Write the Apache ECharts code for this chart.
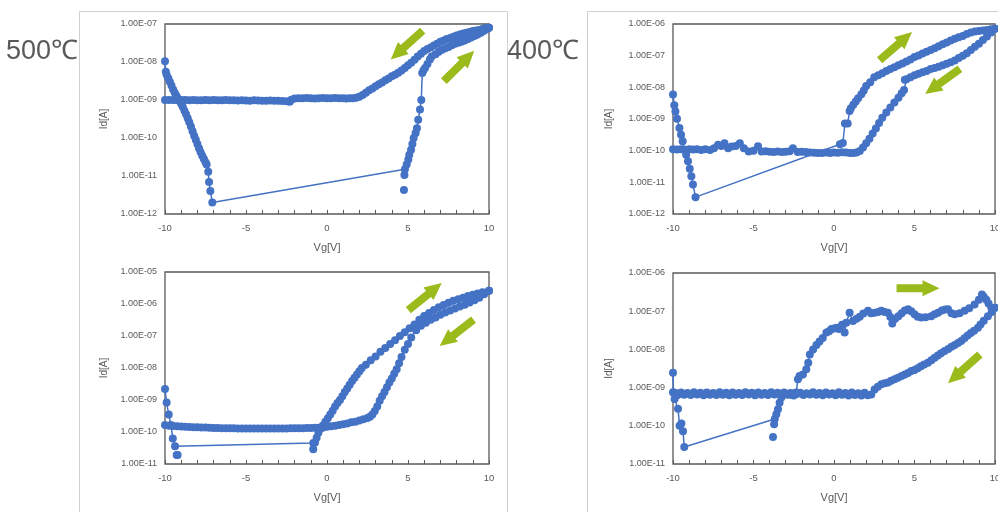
<!DOCTYPE html>
<html>
<head>
<meta charset="utf-8">
<script src="https://cdn.jsdelivr.net/npm/echarts@6/dist/echarts.min.js"></script>
<style>
  html, body { margin: 0; padding: 0; background: #fff; }
  #chart { width: 998px; height: 512px; }
</style>
</head>
<body>
<div id="chart"></div>
<script>
// ---- data: [Vg (V), Id (A)] ----
const xLabelValues = [-10, -5, 0, 5, 10];
const tempLabels = ['500℃', '400℃'];

// 500℃, upper chart
const a500Fwd = [
  [-10, 1.05e-8], [-9.95, 5.5e-9], [-9.9, 4.6e-9], [-9.8, 3.8e-9], [-9.7, 3.0e-9], [-9.6, 2.4e-9],
  [-9.5, 1.9e-9], [-9.4, 1.55e-9], [-9.3, 1.3e-9], [-9.2, 1.1e-9], [-9.1, 9.5e-10], [-9.0, 8.0e-10],
  [-8.9, 6.5e-10], [-8.8, 5.2e-10], [-8.7, 4.2e-10], [-8.6, 3.3e-10], [-8.5, 2.6e-10], [-8.4, 2.0e-10],
  [-8.3, 1.5e-10], [-8.2, 1.15e-10], [-8.1, 9.0e-11], [-8.0, 7.0e-11], [-7.9, 5.4e-11], [-7.8, 4.2e-11],
  [-7.7, 3.4e-11], [-7.6, 2.8e-11], [-7.5, 2.3e-11], [-7.43, 2.0e-11], [-7.33, 1.3e-11], [-7.28, 7.0e-12],
  [-7.2, 4.0e-12], [-7.08, 2.0e-12],
  [4.81, 1.5e-11], [4.92, 2.0e-11], [5.02, 2.7e-11], [5.08, 3.6e-11], [5.19, 4.9e-11], [5.27, 6.9e-11],
  [5.35, 1.0e-10], [5.47, 1.35e-10], [5.55, 1.8e-10], [5.63, 3.0e-10], [5.74, 5.6e-10], [5.82, 1.0e-9],
  [5.88, 5.1e-9], [5.95, 6.0e-9], [6.05, 6.9e-9], [6.2, 8.9e-9], [6.35, 1.17e-8], [6.46, 1.4e-8],
  [6.7, 1.6e-8], [6.9, 1.85e-8], [7.1, 2.1e-8], [7.3, 2.3e-8], [7.5, 2.5e-8], [7.7, 2.75e-8],
  [7.9, 3.0e-8], [8.1, 3.2e-8], [8.3, 3.4e-8], [8.5, 3.7e-8], [8.7, 4.0e-8], [8.9, 4.4e-8],
  [9.1, 4.8e-8], [9.3, 5.3e-8], [9.5, 5.9e-8], [9.7, 6.6e-8], [9.9, 7.5e-8], [10, 8.0e-8]
];
const a500Rev = [
  [10, 8.0e-8], [9.8, 7.9e-8], [9.6, 7.4e-8], [9.4, 7.0e-8], [9.2, 6.7e-8], [9.0, 6.5e-8],
  [8.8, 6.2e-8], [8.6, 5.9e-8], [8.4, 5.6e-8], [8.2, 5.3e-8], [8.0, 5.0e-8], [7.8, 4.6e-8],
  [7.6, 4.3e-8], [7.4, 4.0e-8], [7.2, 3.7e-8], [7.0, 3.4e-8], [6.8, 3.0e-8], [6.6, 2.7e-8],
  [6.4, 2.4e-8], [6.2, 2.2e-8], [6.0, 1.95e-8], [5.8, 1.65e-8], [5.6, 1.4e-8], [5.4, 1.15e-8],
  [5.2, 9.6e-9], [5.0, 8.2e-9], [4.8, 7.0e-9], [4.6, 6.0e-9], [4.4, 5.2e-9], [4.2, 4.6e-9],
  [4.0, 4.2e-9], [3.8, 3.7e-9], [3.6, 3.3e-9], [3.4, 2.9e-9], [3.2, 2.6e-9], [3.0, 2.3e-9],
  [2.8, 2.0e-9], [2.6, 1.8e-9], [2.4, 1.55e-9], [2.2, 1.35e-9], [2.0, 1.22e-9], [1.8, 1.15e-9],
  [1.6, 1.12e-9], [1.4, 1.11e-9], [1.2, 1.1e-9], [1.0, 1.12e-9], [0.75, 1.11e-9], [0.5, 1.13e-9],
  [0.25, 1.11e-9], [0, 1.12e-9], [-0.25, 1.13e-9], [-0.5, 1.11e-9], [-0.75, 1.1e-9], [-1.0, 1.12e-9],
  [-1.25, 1.13e-9], [-1.5, 1.11e-9], [-1.75, 1.12e-9], [-2.0, 1.1e-9], [-2.2, 1.02e-9], [-2.3, 9.0e-10],
  [-2.5, 9.3e-10], [-2.75, 9.4e-10], [-3.0, 9.6e-10], [-3.25, 9.5e-10], [-3.5, 9.7e-10], [-3.75, 9.6e-10],
  [-4.0, 9.5e-10], [-4.25, 9.7e-10], [-4.5, 9.8e-10], [-4.75, 9.6e-10], [-5.0, 9.7e-10], [-5.25, 9.8e-10],
  [-5.5, 9.7e-10], [-5.75, 9.9e-10], [-6.0, 9.8e-10], [-6.25, 1.0e-9], [-6.5, 9.9e-10], [-6.75, 9.8e-10],
  [-7.0, 1.0e-9], [-7.25, 9.9e-10], [-7.5, 1.0e-9], [-7.75, 9.8e-10], [-8.0, 9.9e-10], [-8.25, 1.0e-9],
  [-8.5, 9.9e-10], [-8.75, 1.0e-9], [-9.0, 1.0e-9], [-9.25, 9.9e-10], [-9.5, 1.0e-9], [-9.75, 1.0e-9],
  [-10, 1.0e-9]
];
const a500Stray = [[4.75, 4.3e-12], [4.78, 1.07e-11]];
const a500Arrows = [[4.92, 2.8e-8], [8.15, 7.85e-9]];

// 400℃, upper chart
const b400Fwd = [
  [-10, 5.9e-9], [-9.92, 2.7e-9], [-9.85, 1.74e-9], [-9.75, 1.02e-9], [-9.6, 5.2e-10], [-9.5, 3.2e-10],
  [-9.4, 2.0e-10], [-9.3, 1.07e-10], [-9.18, 7.4e-11], [-9.07, 4.6e-11], [-8.96, 2.7e-11], [-8.86, 1.55e-11],
  [-8.76, 8.5e-12], [-8.6, 3.4e-12],
  [0.37, 1.6e-10], [0.55, 1.75e-10], [0.68, 7.2e-10], [0.85, 7.2e-10], [0.97, 1.8e-9], [1.05, 2.2e-9],
  [1.2, 2.8e-9], [1.35, 3.6e-9], [1.5, 4.5e-9], [1.7, 6.0e-9], [1.85, 8.0e-9], [2.0, 1.1e-8],
  [2.25, 1.45e-8], [2.5, 2.1e-8], [2.75, 2.4e-8], [3.0, 2.8e-8], [3.25, 3.3e-8], [3.5, 3.8e-8],
  [3.75, 4.3e-8], [4.0, 5.0e-8], [4.25, 5.7e-8], [4.5, 6.6e-8], [4.75, 7.6e-8], [5.0, 9.0e-8],
  [5.25, 1.02e-7], [5.5, 1.17e-7], [5.75, 1.32e-7], [6.0, 1.5e-7], [6.25, 1.72e-7], [6.5, 2.0e-7],
  [6.75, 2.3e-7], [7.0, 2.6e-7], [7.25, 3.0e-7], [7.5, 3.4e-7], [7.75, 3.8e-7], [8.0, 4.2e-7],
  [8.25, 4.8e-7], [8.5, 5.4e-7], [8.75, 5.8e-7], [9.0, 6.0e-7], [9.25, 6.2e-7], [9.5, 6.5e-7],
  [9.75, 6.8e-7], [10, 7.1e-7]
];
const b400Rev = [
  [10, 7.1e-7], [9.75, 5.4e-7], [9.5, 4.0e-7], [9.25, 3.1e-7], [9.0, 2.4e-7], [8.75, 1.9e-7],
  [8.5, 1.5e-7], [8.25, 1.2e-7], [8.0, 1.0e-7], [7.75, 8.5e-8], [7.5, 7.1e-8], [7.25, 6.2e-8],
  [7.0, 5.6e-8], [6.75, 5.0e-8], [6.5, 4.5e-8], [6.25, 4.1e-8], [6.0, 3.8e-8], [5.75, 3.3e-8],
  [5.5, 3.0e-8], [5.25, 2.7e-8], [5.0, 2.4e-8], [4.75, 2.1e-8], [4.5, 1.8e-8], [4.4, 1.75e-8],
  [4.35, 8.3e-9], [4.2, 6.5e-9], [4.0, 4.7e-9], [3.75, 3.3e-9], [3.5, 2.3e-9], [3.25, 1.6e-9],
  [3.0, 1.1e-9], [2.8, 7.5e-10], [2.6, 5.0e-10], [2.4, 3.5e-10], [2.2, 2.4e-10], [2.0, 1.7e-10],
  [1.8, 1.25e-10], [1.6, 9.8e-11], [1.4, 8.8e-11], [1.2, 8.5e-11], [1.0, 8.5e-11], [0.75, 8.7e-11],
  [0.5, 8.9e-11], [0.25, 8.6e-11], [0, 8.8e-11], [-0.25, 8.5e-11], [-0.5, 8.7e-11], [-0.75, 8.5e-11],
  [-1.0, 8.4e-11], [-1.25, 8.6e-11], [-1.5, 8.8e-11], [-1.75, 9.0e-11], [-2.0, 9.3e-11], [-2.25, 9.0e-11],
  [-2.55, 1.2e-10], [-2.75, 9.5e-11], [-3.0, 9.2e-11], [-3.25, 9.0e-11], [-3.5, 9.4e-11], [-3.75, 9.1e-11],
  [-4.0, 9.3e-11], [-4.25, 9.6e-11], [-4.5, 9.4e-11], [-4.72, 1.38e-10], [-5.0, 1.0e-10], [-5.3, 9.4e-11],
  [-5.6, 1.2e-10], [-5.85, 1.7e-10], [-6.1, 1.4e-10], [-6.35, 1.35e-10], [-6.58, 1.2e-10], [-6.8, 1.7e-10],
  [-7.0, 1.4e-10], [-7.2, 1.55e-10], [-7.45, 1.2e-10], [-7.7, 1.05e-10], [-8.0, 1.1e-10], [-8.25, 1.05e-10],
  [-8.5, 1.1e-10], [-8.75, 1.08e-10], [-9.0, 1.1e-10], [-9.25, 1.07e-10], [-9.5, 1.1e-10], [-9.75, 1.08e-10],
  [-10, 1.1e-10]
];
const b400Stray = [];
const b400Arrows = [[3.84, 2.0e-7], [6.74, 1.55e-8]];

// 500℃, lower chart
const c500Fwd = [
  [-10, 2.2e-9], [-9.9, 8.3e-10], [-9.77, 3.5e-10], [-9.63, 1.66e-10], [-9.52, 6.3e-11], [-9.38, 3.6e-11],
  [-0.85, 4.5e-11], [-0.74, 4.7e-11], [-0.64, 6.6e-11], [-0.53, 9.5e-11], [-0.4, 1.26e-10], [-0.25, 1.6e-10],
  [-0.1, 2.1e-10], [0.05, 2.7e-10], [0.2, 3.5e-10], [0.35, 4.6e-10], [0.5, 6.3e-10], [0.65, 8.0e-10],
  [0.8, 1.0e-9], [0.95, 1.3e-9], [1.1, 1.78e-9], [1.25, 2.3e-9], [1.4, 3.0e-9], [1.55, 3.9e-9],
  [1.7, 5.0e-9], [1.85, 6.3e-9], [2.0, 7.9e-9], [2.15, 1.0e-8], [2.4, 1.26e-8], [2.7, 1.74e-8],
  [3.0, 2.3e-8], [3.3, 3.2e-8], [3.6, 4.2e-8], [3.9, 5.6e-8], [4.2, 7.4e-8], [4.5, 1.0e-7],
  [4.8, 1.32e-7], [5.1, 1.74e-7], [5.4, 2.3e-7], [5.7, 3.2e-7], [6.0, 4.2e-7], [6.3, 5.2e-7],
  [6.6, 6.5e-7], [6.9, 7.9e-7], [7.2, 9.3e-7], [7.5, 1.1e-6], [7.8, 1.26e-6], [8.1, 1.41e-6],
  [8.4, 1.58e-6], [8.7, 1.78e-6], [9.0, 1.95e-6], [9.3, 2.14e-6], [9.6, 2.34e-6], [10, 2.6e-6]
];
const c500Rev = [
  [10, 2.6e-6], [9.7, 2.0e-6], [9.4, 1.58e-6], [9.1, 1.32e-6], [8.8, 1.12e-6], [8.5, 9.5e-7],
  [8.2, 8.3e-7], [7.9, 7.2e-7], [7.6, 6.3e-7], [7.3, 5.4e-7], [7.0, 4.6e-7], [6.7, 3.8e-7],
  [6.4, 3.2e-7], [6.1, 2.6e-7], [5.8, 2.1e-7], [5.5, 1.5e-7], [5.2, 8.9e-8], [5.0, 5.6e-8],
  [4.8, 3.7e-8], [4.6, 2.2e-8], [4.45, 1.4e-8], [4.3, 9.1e-9], [4.15, 6.6e-9], [4.0, 4.7e-9],
  [3.85, 3.5e-9], [3.7, 2.5e-9], [3.55, 1.78e-9], [3.4, 1.32e-9], [3.25, 9.5e-10], [3.1, 6.3e-10],
  [2.95, 4.5e-10], [2.8, 3.5e-10], [2.65, 3.0e-10], [2.5, 2.75e-10], [2.25, 2.5e-10], [2.0, 2.3e-10],
  [1.75, 2.1e-10], [1.5, 2.0e-10], [1.25, 1.86e-10], [1.0, 1.74e-10], [0.75, 1.66e-10], [0.5, 1.58e-10],
  [0.25, 1.5e-10], [0, 1.45e-10], [-0.25, 1.38e-10], [-0.5, 1.36e-10], [-0.75, 1.35e-10], [-1.0, 1.34e-10],
  [-1.25, 1.33e-10], [-1.5, 1.32e-10], [-1.75, 1.31e-10], [-2.0, 1.3e-10], [-2.25, 1.3e-10], [-2.5, 1.29e-10],
  [-2.75, 1.29e-10], [-3.0, 1.28e-10], [-3.25, 1.28e-10], [-3.5, 1.28e-10], [-3.75, 1.28e-10], [-4.0, 1.28e-10],
  [-4.25, 1.28e-10], [-4.5, 1.28e-10], [-4.75, 1.28e-10], [-5.0, 1.28e-10], [-5.25, 1.29e-10], [-5.5, 1.29e-10],
  [-5.75, 1.3e-10], [-6.0, 1.3e-10], [-6.25, 1.31e-10], [-6.5, 1.32e-10], [-6.75, 1.33e-10], [-7.0, 1.34e-10],
  [-7.25, 1.35e-10], [-7.5, 1.37e-10], [-7.75, 1.38e-10], [-8.0, 1.4e-10], [-8.25, 1.42e-10], [-8.5, 1.44e-10],
  [-8.75, 1.46e-10], [-9.0, 1.48e-10], [-9.25, 1.5e-10], [-9.5, 1.53e-10], [-9.75, 1.58e-10], [-10, 1.66e-10]
];
const c500Stray = [[-9.28, 1.9e-11], [-9.22, 1.9e-11], [-0.85, 2.9e-11]];
const c500Arrows = [[6.05, 1.7e-6], [8.0, 1.26e-7]];

// 400℃, lower chart
const d400Fwd = [
  [-10, 2.45e-9], [-9.97, 7.4e-10], [-9.9, 5.0e-10], [-9.69, 2.8e-10], [-9.59, 1.0e-10], [-9.48, 1.15e-10],
  [-9.38, 7.2e-11], [-9.3, 2.8e-11],
  [-3.68, 1.5e-10], [-3.58, 2.0e-10], [-3.48, 2.7e-10], [-3.38, 4.0e-10], [-3.27, 5.5e-10], [-3.1, 6.8e-10],
  [-2.9, 6.8e-10], [-2.7, 6.5e-10], [-2.5, 7.0e-10], [-2.35, 7.4e-10], [-2.24, 1.66e-9], [-2.14, 2.0e-9],
  [-1.93, 2.2e-9], [-1.72, 3.0e-9], [-1.6, 4.5e-9], [-1.5, 7.4e-9], [-1.3, 1.0e-8], [-1.09, 1.3e-8],
  [-0.9, 1.6e-8], [-0.7, 2.0e-8], [-0.47, 2.75e-8], [-0.3, 3.0e-8], [-0.16, 3.4e-8], [0.0, 3.5e-8],
  [0.15, 3.7e-8], [0.3, 3.4e-8], [0.5, 4.4e-8], [0.66, 2.75e-8], [0.76, 5.0e-8], [0.97, 9.1e-8],
  [1.18, 5.5e-8], [1.4, 6.3e-8], [1.6, 7.2e-8], [1.82, 8.7e-8], [2.11, 1.02e-7], [2.3, 8.9e-8],
  [2.52, 9.1e-8], [2.75, 9.5e-8], [2.94, 1.02e-7], [3.15, 9.5e-8], [3.35, 9.1e-8], [3.5, 7.1e-8],
  [3.62, 4.8e-8], [3.8, 6.3e-8], [4.0, 7.4e-8], [4.2, 8.9e-8], [4.4, 1.05e-7], [4.6, 1.12e-7],
  [4.8, 1.0e-7], [5.0, 8.3e-8], [5.2, 7.2e-8], [5.42, 6.8e-8], [5.7, 6.9e-8], [6.04, 7.4e-8],
  [6.25, 8.3e-8], [6.46, 9.1e-8], [6.7, 1.05e-7], [6.9, 1.1e-7], [7.08, 1.12e-7], [7.3, 8.9e-8],
  [7.5, 8.3e-8], [7.8, 8.9e-8], [8.11, 1.02e-7], [8.4, 1.2e-7], [8.73, 1.5e-7], [9.0, 2.0e-7],
  [9.19, 2.75e-7], [9.3, 2.4e-7], [9.46, 2.0e-7], [9.6, 1.6e-7], [9.77, 1.23e-7], [10, 1.23e-7]
];
const d400Rev = [
  [10, 1.23e-7], [9.8, 9.5e-8], [9.56, 7.4e-8], [9.3, 5.6e-8], [9.1, 4.5e-8], [8.94, 3.7e-8],
  [8.7, 3.1e-8], [8.5, 2.7e-8], [8.3, 2.3e-8], [8.1, 1.95e-8], [7.9, 1.66e-8], [7.7, 1.48e-8],
  [7.5, 1.3e-8], [7.3, 1.17e-8], [7.1, 1.02e-8], [6.87, 9.1e-9], [6.65, 7.9e-9], [6.45, 6.9e-9],
  [6.25, 6.0e-9], [6.05, 5.2e-9], [5.83, 4.5e-9], [5.6, 4.0e-9], [5.4, 3.6e-9], [5.2, 3.2e-9],
  [5.0, 2.9e-9], [4.8, 2.7e-9], [4.6, 2.4e-9], [4.4, 2.2e-9], [4.2, 2.0e-9], [3.97, 1.8e-9],
  [3.76, 1.66e-9], [3.55, 1.5e-9], [3.35, 1.35e-9], [3.15, 1.3e-9], [2.94, 1.23e-9], [2.72, 1.05e-9],
  [2.52, 8.9e-10], [2.32, 6.6e-10], [2.1, 6.3e-10], [1.9, 7.3e-10], [1.7, 6.2e-10], [1.5, 7.1e-10],
  [1.3, 6.4e-10], [1.1, 7.4e-10], [0.9, 6.2e-10], [0.7, 7.2e-10], [0.5, 6.5e-10], [0.3, 7.5e-10],
  [0.1, 6.3e-10], [-0.1, 7.1e-10], [-0.3, 6.6e-10], [-0.5, 7.4e-10], [-0.7, 6.3e-10], [-0.9, 7.2e-10],
  [-1.1, 6.5e-10], [-1.3, 7.5e-10], [-1.5, 6.6e-10], [-1.7, 7.1e-10], [-1.9, 6.4e-10], [-2.1, 7.3e-10],
  [-2.3, 6.8e-10], [-2.5, 6.2e-10], [-2.7, 7.2e-10], [-2.9, 6.5e-10], [-3.1, 7.4e-10], [-3.3, 6.4e-10],
  [-3.5, 7.3e-10], [-3.7, 6.6e-10], [-3.9, 7.5e-10], [-4.1, 6.4e-10], [-4.3, 7.2e-10], [-4.5, 6.5e-10],
  [-4.7, 7.4e-10], [-4.9, 6.3e-10], [-5.1, 7.3e-10], [-5.3, 6.6e-10], [-5.5, 7.5e-10], [-5.7, 6.4e-10],
  [-5.9, 7.2e-10], [-6.1, 6.5e-10], [-6.3, 7.4e-10], [-6.5, 6.3e-10], [-6.7, 7.3e-10], [-6.9, 6.5e-10],
  [-7.1, 7.5e-10], [-7.3, 6.4e-10], [-7.5, 7.2e-10], [-7.7, 6.5e-10], [-7.9, 7.4e-10], [-8.1, 6.3e-10],
  [-8.3, 7.3e-10], [-8.5, 6.6e-10], [-8.7, 7.5e-10], [-8.9, 6.4e-10], [-9.1, 7.2e-10], [-9.3, 6.5e-10],
  [-9.5, 7.4e-10], [-9.7, 6.4e-10], [-9.85, 7.2e-10], [-10, 7.6e-10]
];
const d400Stray = [[-3.72, 1.1e-10], [-3.79, 5.1e-11]];
const d400Arrows = [[5.22, 4.0e-7], [8.07, 3.1e-9]];

// ---- styling ----
const BLUE = '#4472C4';
const GREEN = '#9BBB1C';
const INK = '#595959';
const FONT = 'Liberation Sans, Arial, sans-serif';
const ARROW = 'path://M0,4L26,4L26,0L43,8L26,16L26,12L0,12Z';

const panels = [
  { left: 165, top: 24, width: 324, height: 190, yMin: 1e-12, yMax: 1e-7, nameGap: 56,
    fwd: a500Fwd, rev: a500Rev, stray: a500Stray, arrows: a500Arrows, rot: [222, 45] },
  { left: 673, top: 24, width: 322, height: 190, yMin: 1e-12, yMax: 1e-6, nameGap: 59,
    fwd: b400Fwd, rev: b400Rev, stray: b400Stray, arrows: b400Arrows, rot: [41, 216] },
  { left: 165, top: 272, width: 324, height: 192, yMin: 1e-11, yMax: 1e-5, nameGap: 56,
    fwd: c500Fwd, rev: c500Rev, stray: c500Stray, arrows: c500Arrows, rot: [39, 218] },
  { left: 673, top: 273, width: 322, height: 191, yMin: 1e-11, yMax: 1e-6, nameGap: 59,
    fwd: d400Fwd, rev: d400Rev, stray: d400Stray, arrows: d400Arrows, rot: [0, 222] }
];

function expLabel(v) {
  const e = Math.round(Math.log10(v));
  return '1.00E' + (e < 0 ? '-' : '+') + String(Math.abs(e)).padStart(2, '0');
}

const grids = [], xAxes = [], yAxes = [], series = [];

panels.forEach((p, i) => {
  // the plot frame comes from the grid border, so axis lines stay hidden
  grids.push({
    left: p.left, top: p.top, width: p.width, height: p.height,
    show: true, borderColor: INK, borderWidth: 1.3, backgroundColor: 'transparent',
    outerBoundsMode: 'none', containLabel: false
  });
  xAxes.push({
    type: 'value', gridIndex: i, min: -10, max: 10, interval: 1, position: 'bottom',
    name: 'Vg[V]', nameLocation: 'middle', nameGap: 28,
    nameTextStyle: { color: INK, fontSize: 11, fontFamily: FONT },
    axisLine: { show: false, onZero: false },
    axisTick: { show: true, inside: true, length: 4, lineStyle: { color: INK } },
    axisLabel: {
      color: INK, fontSize: 9.5, fontFamily: FONT, margin: 9,
      formatter: v => (xLabelValues.includes(v) ? String(v) : '')
    },
    splitLine: { show: false }
  });
  yAxes.push({
    type: 'log', logBase: 10, gridIndex: i, min: p.yMin, max: p.yMax, position: 'left',
    name: 'Id[A]', nameLocation: 'middle', nameGap: p.nameGap,
    nameTextStyle: { color: INK, fontSize: 10, fontFamily: FONT },
    axisLine: { show: false, onZero: false },
    axisTick: { show: false },
    axisLabel: { color: INK, fontSize: 9, fontFamily: FONT, margin: 8, formatter: expLabel },
    splitLine: { show: false }
  });

  [p.rev, p.fwd].forEach(d => {
    series.push({
      type: 'line', xAxisIndex: i, yAxisIndex: i, data: d,
      symbol: 'circle', symbolSize: 8, showAllSymbol: true, clip: false,
      lineStyle: { color: BLUE, width: 1.5 },
      itemStyle: { color: BLUE, opacity: 1 },
      emphasis: { disabled: true }, z: 3
    });
  });
  series.push({
    type: 'scatter', xAxisIndex: i, yAxisIndex: i, data: p.stray,
    symbol: 'circle', symbolSize: 8, itemStyle: { color: BLUE, opacity: 1 },
    emphasis: { disabled: true }, z: 3
  });
  series.push({
    type: 'scatter', xAxisIndex: i, yAxisIndex: i,
    data: p.arrows.map((pt, k) => ({ value: pt, symbolRotate: p.rot[k] })),
    symbol: ARROW, symbolSize: [43, 16], symbolKeepAspect: false,
    itemStyle: { color: GREEN, opacity: 1 }, emphasis: { disabled: true }, z: 5
  });
});

const chart = echarts.init(document.getElementById('chart'), null, { renderer: 'canvas' });
chart.setOption({
  animation: false,
  backgroundColor: '#fff',
  title: [
    { text: tempLabels[0], left: 6, top: 38, padding: 0,
      textStyle: { fontSize: 27, fontWeight: 'normal', color: INK, fontFamily: FONT } },
    { text: tempLabels[1], left: 507, top: 38, padding: 0,
      textStyle: { fontSize: 27, fontWeight: 'normal', color: INK, fontFamily: FONT } }
  ],
  graphic: [
    { type: 'rect', silent: true, z: -1,
      shape: { x: 79.5, y: 11.5, width: 428, height: 560 },
      style: { fill: 'none', stroke: '#d0d0d0', lineWidth: 1 } },
    { type: 'rect', silent: true, z: -1,
      shape: { x: 587.5, y: 11.5, width: 500, height: 560 },
      style: { fill: 'none', stroke: '#d0d0d0', lineWidth: 1 } }
  ],
  grid: grids,
  xAxis: xAxes,
  yAxis: yAxes,
  series: series
});
</script>
</body>
</html>
